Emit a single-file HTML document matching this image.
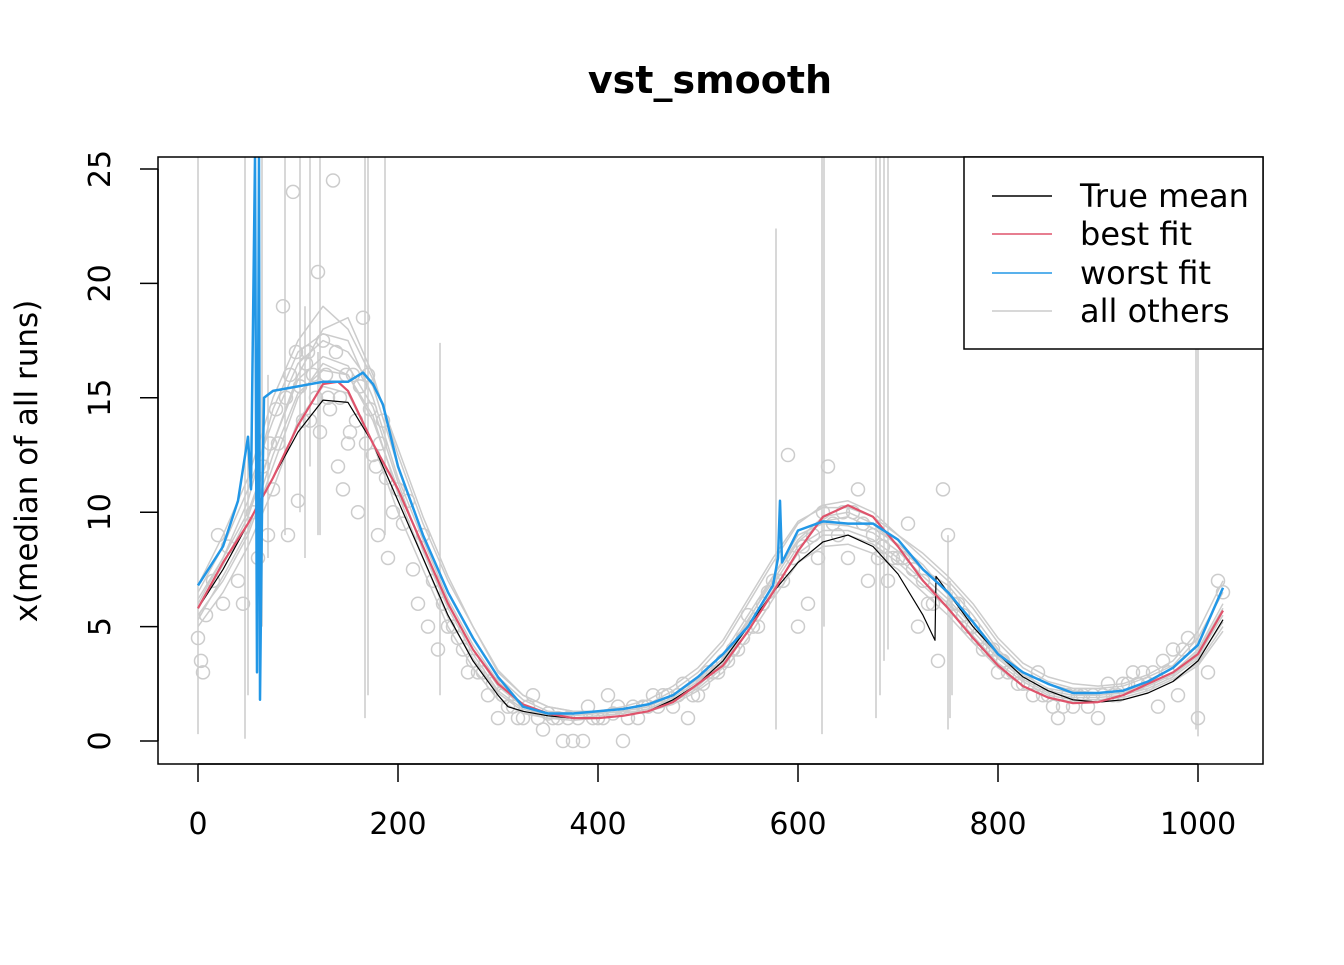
<!DOCTYPE html>
<html><head><meta charset="utf-8"><style>
body{margin:0;background:#fff;}
svg text{font-family:"DejaVu Sans","Liberation Sans",sans-serif;}
</style></head><body>
<svg id="chart" width="1344" height="960" xmlns="http://www.w3.org/2000/svg">
<text x="710" y="93" text-anchor="middle" font-size="38" font-weight="bold">vst_smooth</text>
<g id="plot"></g>
<rect x="158" y="157" width="1105" height="607" fill="none" stroke="#000" stroke-width="1.5"/>
<g id="axes"></g>
<text transform="translate(37,461) rotate(-90)" text-anchor="middle" font-size="31">x(median of all runs)</text>
<g>
<rect x="964" y="157" width="299" height="192" fill="#fff" stroke="#000" stroke-width="1.5"/>
<line x1="992" y1="196" x2="1052" y2="196" stroke="#000" stroke-width="1.5"/><text x="1080" y="207" font-size="32">True mean</text>
<line x1="992" y1="234" x2="1052" y2="234" stroke="#DF536B" stroke-width="1.5"/><text x="1080" y="245" font-size="32">best fit</text>
<line x1="992" y1="273" x2="1052" y2="273" stroke="#2297E6" stroke-width="1.5"/><text x="1080" y="284" font-size="32">worst fit</text>
<line x1="992" y1="311" x2="1052" y2="311" stroke="#CCCCCC" stroke-width="1.5"/><text x="1080" y="322" font-size="32">all others</text>
</g>
</svg>
<script>
const xTicks=[0,200,400,600,800,1000];
const yTicks=[0,5,10,15,20,25];
const trueX=[0,25,50,75,100,125,150,175,200,225,250,275,300,310,325,350,375,400,425,450,475,500,525,550,575,600,625,650,675,700,725,737,738,750,775,800,825,850,875,900,925,950,975,1000,1025];
const trueY=[5.8,7.5,9.5,11.5,13.5,14.9,14.8,13,10.5,8,5.5,3.5,2,1.5,1.3,1.1,1.0,1.0,1.1,1.3,1.8,2.5,3.5,5,6.5,7.8,8.7,9,8.5,7.3,5.5,4.4,7.2,6.5,5,3.8,2.8,2.2,1.8,1.7,1.8,2.1,2.6,3.5,5.3];
const bestX=[0,25,50,75,100,125,140,150,175,200,225,250,275,300,325,350,375,400,425,450,475,500,525,550,575,600,625,650,675,700,725,750,775,800,825,850,875,900,925,950,975,1000,1025];
const bestY=[5.8,7.8,9.5,11.5,13.8,15.6,15.7,15.3,13,11,8.5,6,4,2.5,1.6,1.2,1.0,1.0,1.1,1.3,1.7,2.5,3.3,4.8,6.5,8.3,9.8,10.3,9.8,8.5,7,5.8,4.5,3.3,2.4,1.9,1.65,1.7,2.0,2.5,3.0,3.8,5.7];
const worstX=[0,25,40,50,53,57,59,61,62,64,66,75,100,125,150,165,175,185,200,225,250,275,300,325,350,375,400,425,450,475,500,525,550,575,580,582,584,600,625,650,675,700,725,750,775,800,825,850,875,900,925,950,975,1000,1025];
const worstY=[6.8,8.5,10.5,13.3,11,25.5,3,25.5,1.8,10,15,15.3,15.5,15.7,15.7,16.1,15.6,14.7,12,9,6.5,4.5,2.8,1.5,1.2,1.2,1.3,1.4,1.6,2.0,2.8,3.8,5,6.8,8,10.5,7.8,9.2,9.6,9.5,9.5,8.8,7.5,6.5,5.2,3.8,3,2.5,2.1,2.1,2.2,2.6,3.2,4.2,6.7];
const grayX=[0,25,50,75,100,125,150,175,200,225,250,275,300,325,350,375,400,425,450,475,500,525,550,575,600,625,650,675,700,725,750,775,800,825,850,875,900,925,950,975,1000,1025];
const gray1=[6.5,8.5,11,14,16.5,17.5,17,15.5,12,9,6.5,4.5,2.8,1.8,1.3,1.2,1.2,1.3,1.5,2,2.8,3.8,5.5,7.2,8.8,9.8,10,9.5,8.5,7.5,6.8,5.5,4,3,2.5,2.2,2.1,2.2,2.5,3,4,6];
const gray2=[5.5,7,9,12,15,16.5,16,14,11,8.5,6,4,2.4,1.5,1.1,1.0,1.1,1.2,1.4,1.8,2.4,3.4,5,6.8,8.5,9.2,9.2,8.8,8,7,6,4.8,3.6,2.7,2.1,1.9,1.9,2,2.3,2.8,3.6,5.2];
const gray3=[6,8,10,13,16,18,18.5,16,12.5,9.5,7,5,3,2,1.5,1.3,1.3,1.4,1.6,2.2,3,4.2,6,7.8,9.5,10.3,10.5,10,9,8,7,5.8,4.3,3.2,2.6,2.3,2.3,2.4,2.8,3.3,4.5,6.5];
const gray4=[5,6.5,8.5,11,14,15.5,15.2,13,10,7.5,5,3.2,1.8,1.2,1.0,0.9,1.0,1.1,1.3,1.6,2.2,3,4.5,6.2,7.8,8.5,8.6,8.2,7.5,6.5,5.5,4.3,3.2,2.4,1.9,1.7,1.7,1.8,2.1,2.6,3.3,4.8];
const gray5=[6.2,8,10.5,14.5,17,17.8,17.5,15,11.5,8.8,6.2,4.2,2.6,1.6,1.2,1.1,1.2,1.3,1.5,2,2.7,3.6,5.3,7,8.7,9.6,9.8,9.3,8.6,7.7,6.4,5.2,3.9,2.9,2.3,2.1,2,2.1,2.4,2.9,3.9,5.8];
const gray6=[5.8,7.7,9.8,13,15.8,16.8,16.4,14.6,11.3,8.3,5.8,3.8,2.2,1.4,1.1,1.0,1.1,1.2,1.4,1.9,2.6,3.5,5.2,7.2,9,9.5,9.4,9.1,8.3,7.2,6.2,5,3.7,2.8,2.2,2,2,2.1,2.4,2.9,3.7,5.5];
const gray7=[6.8,9,11.5,15,17.5,19,18,15.8,12.8,9.8,7.2,5,3.1,2,1.5,1.3,1.3,1.5,1.8,2.4,3.2,4.4,6.2,8,9.6,10.2,10.2,9.8,9,8.2,7.2,6,4.5,3.4,2.8,2.5,2.4,2.5,2.9,3.5,4.8,7];
const gray8=[5.3,7.2,9.2,12.5,15.2,16.2,16,14.2,10.8,8,5.4,3.6,2.1,1.3,1.0,1.0,1.0,1.1,1.3,1.7,2.3,3.2,4.8,6.6,8.2,9,9,8.6,7.8,6.8,5.8,4.6,3.4,2.6,2,1.8,1.8,1.9,2.2,2.7,3.4,5];
const ptX=[0,3,5,8,15,20,25,30,40,45,55,60,70,75,80,85,90,95,100,105,110,115,120,125,130,135,140,145,150,155,160,165,170,175,180,185,190,200,205,210,215,220,230,240,250,260,270,280,290,300,310,320,335,345,355,365,370,375,385,400,410,425,440,450,470,490,500,520,540,560,580,590,600,610,620,625,630,640,650,660,670,680,690,700,710,720,730,740,745,750,760,770,790,800,820,840,860,880,900,920,940,960,980,1000,1010,1020,1025,
65,72,78,88,92,98,102,108,112,118,122,128,132,138,142,148,152,158,162,168,172,178,182,188,195,225,235,245,255,265,275,285,295,305,315,325,330,340,350,360,380,390,395,405,415,420,430,435,445,455,460,465,475,480,485,495,505,510,515,525,530,535,545,550,555,565,570,575,585,595,605,615,635,645,655,665,675,685,695,705,715,725,735,755,765,775,780,785,795,805,810,815,825,830,835,845,850,855,865,870,875,885,890,895,905,910,915,925,930,935,945,950,955,965,970,975,985,990,995,1005,1015];
const ptY=[4.5,3.5,3,5.5,7,9,6,8.5,7,6,10,8,9,11,13,19,9,24,10.5,14,17,16,20.5,17.5,15,24.5,12,11,13,16,10,18.5,16,12.5,9,14,8,11,9.5,10.5,7.5,6,5,4,5,4.5,3,3,2,1,1.5,1,2,0.5,1,0,1,0,0,1,2,0,1,1.5,2,1,2,3,4,5,7,12.5,5,6,8,10,12,9,8,11,7,8,7,8,9.5,5,6,3.5,11,9,6,5,4,3,2.5,3,1,2,1,2,2.5,1.5,2,1,3,7,6.5,
12,13,14.5,15,16,17,15.5,16.5,14,15,13.5,16,14.5,17,15,16,13.5,14,15.5,13,14.5,12,13,11.5,10,9,7,6,5,4,3.5,3,2.5,2,1.5,1,1.5,1,1.2,1,1,1.5,1,1,1.2,1.5,1,1.5,1.5,2,1.5,2,1.5,2,2.5,2,2.5,3,3,3.5,3.5,4,4.5,5.5,5,6,6.5,7,7,8,8.5,9,9.5,10,10,9.5,9,8.5,8,8,7.5,7,6,6,5.5,5,4.5,4,4,3.5,3,3,2.5,2.5,2,2,2,1.5,1.5,2,1.5,2,1.5,2,2,2.5,2,2.5,2.5,3,3,2.5,3,3.5,3,4,4,4.5];
const spikeX=[0,47,50,64,70,87,102,107,112,120,122,167,170,187,242,578,624,626,678,682,686,690,750,752,754,998,1000];
const spikeTop=[25.5,25.5,13,25.5,16,25.5,25.5,19,25.5,17,25.5,25.5,25.5,25.5,17.4,22.4,25.5,25.5,25.5,25.5,25.5,25.5,9,7,6.5,19,25.5];
const spikeBot=[0.3,0.1,2,5,8,9,10,8,12,9,9,1,2,9,2,0.5,0.3,5,1,2,3.5,4,0.5,1,2,0.5,0.2];

const NS="http://www.w3.org/2000/svg";
const X=v=>198+v*1.0, Y=v=>741-v*22.88;
const plot=document.getElementById('plot'), axes=document.getElementById('axes');
function mk(tag,attrs,parent){const e=document.createElementNS(NS,tag);for(const k in attrs)e.setAttribute(k,attrs[k]);parent.appendChild(e);return e;}
const clip=mk('clipPath',{id:'cp'},plot);mk('rect',{x:158,y:157,width:1105,height:607},clip);
const g=mk('g',{'clip-path':'url(#cp)'},plot);
function line(xs,ys,color,w,name){const d=xs.map((x,i)=>(i?'L':'M')+X(x).toFixed(1)+','+Y(ys[i]).toFixed(1)).join('');const p=mk('path',{d:d,fill:'none',stroke:color,'stroke-width':w,'stroke-linejoin':'round'},g);

}
spikeX.forEach((x,i)=>{const l=mk('line',{x1:X(x),x2:X(x),y1:Y(spikeTop[i]),y2:Y(spikeBot[i]),stroke:'#CCCCCC','stroke-width':1.5},g);

});
[gray1,gray2,gray3,gray4,gray5,gray6,gray7,gray8].forEach((s,i)=>line(grayX,s,'#CCCCCC',1.5,'other-run-'+(i+1)));
ptX.forEach((x,i)=>{const c=mk('circle',{cx:X(x),cy:Y(ptY[i]),r:6.5,fill:'none',stroke:'#CCCCCC','stroke-width':1.5},g);

});
line(trueX,trueY,'#000',1.2,'true-mean-line');
line(bestX,bestY,'#DF536B',2.2,'best-fit-line');
line(worstX,worstY,'#2297E6',2.5,'worst-fit-line');
mk('line',{x1:X(0),x2:X(1000),y1:764,y2:764,stroke:'#000','stroke-width':1.5},axes);
xTicks.forEach(t=>{mk('line',{x1:X(t),x2:X(t),y1:764,y2:782,stroke:'#000','stroke-width':1.5},axes);
const tx=mk('text',{x:X(t),y:834,'text-anchor':'middle','font-size':30},axes);tx.textContent=t;

});
mk('line',{x1:158,x2:158,y1:Y(0),y2:Y(25),stroke:'#000','stroke-width':1.5},axes);
yTicks.forEach(t=>{mk('line',{x1:140,x2:158,y1:Y(t),y2:Y(t),stroke:'#000','stroke-width':1.5},axes);
const tx=mk('text',{transform:'translate(110,'+Y(t)+') rotate(-90)','text-anchor':'middle','font-size':30},axes);tx.textContent=t;

});
</script>
</body></html>
